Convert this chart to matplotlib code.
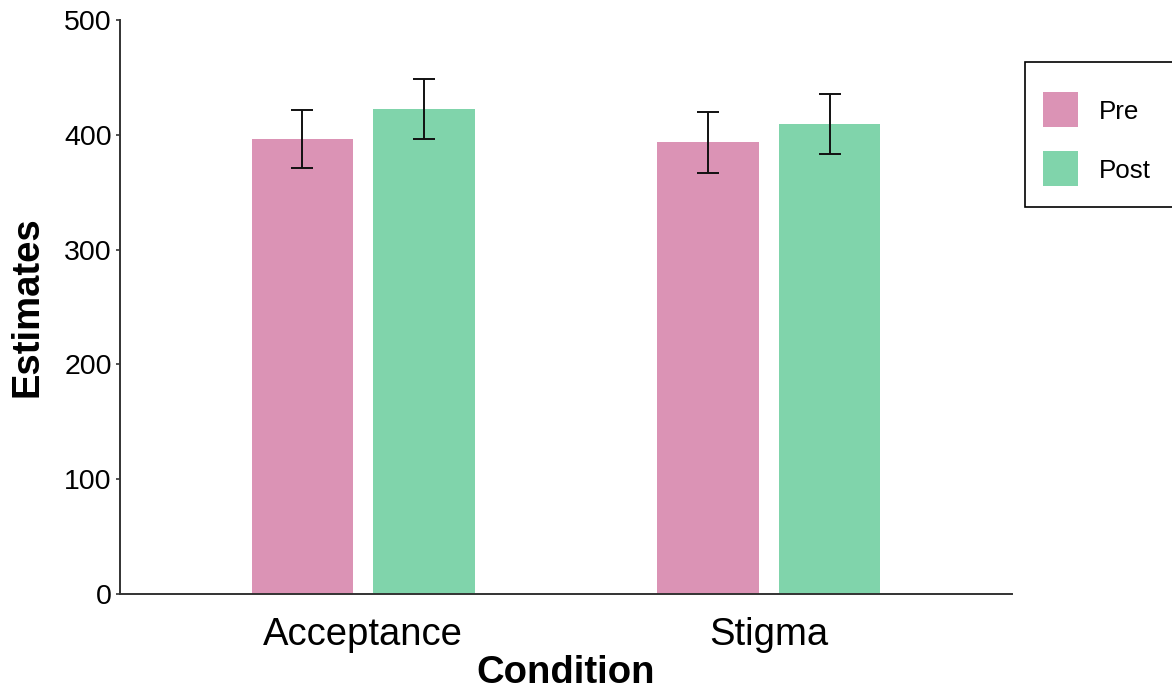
import matplotlib
matplotlib.use("Agg")
import matplotlib.pyplot as plt
from matplotlib.patches import Rectangle
import numpy as np

plt.rcParams['font.family'] = ['Liberation Sans', 'DejaVu Sans']

# Data
conditions = ["Acceptance", "Stigma"]
phases = ["Pre", "Post"]
estimates = {
    "Pre": [396.5, 393.5],
    "Post": [422.5, 409.5],
}
errors = {
    "Pre": [25.0, 26.5],
    "Post": [26.0, 26.0],
}
colors = {"Pre": "#DB93B5", "Post": "#80D4AB"}

W, H = 1172, 690
fig = plt.figure(figsize=(W / 100, H / 100), dpi=100)
ax = fig.add_axes([120 / W, 1 - 594 / H, (1012 - 120) / W, (594 - 20) / H])

x = np.arange(1, len(conditions) + 1)
bar_w = 0.25
offsets = {"Pre": -0.15, "Post": 0.15}
for ph in phases:
    pos = x + offsets[ph]
    ax.bar(pos, estimates[ph], width=bar_w, color=colors[ph], zorder=2)
    ax.errorbar(pos, estimates[ph], yerr=errors[ph], fmt="none", ecolor="#111111",
                elinewidth=1.4, capsize=7.6, capthick=1.4, zorder=3)

ax.set_xlim(0.4, 2.6)
ax.set_ylim(0, 500)
ax.set_yticks([0, 100, 200, 300, 400, 500])
ax.set_xticks(x)
ax.set_xticklabels(conditions, fontsize=27.5)
ax.tick_params(axis="y", labelsize=20.5, length=3, width=1.2, color="#333333", pad=3)
ax.tick_params(axis="x", length=0, pad=16.5)

for s in ["top", "right"]:
    ax.spines[s].set_visible(False)
for s in ["left", "bottom"]:
    ax.spines[s].set_linewidth(1.4)
    ax.spines[s].set_color("#333333")

ax.set_xlabel("Condition", fontsize=27.5, fontweight="bold", labelpad=1.5)
ax.set_ylabel("Estimates", fontsize=27.5, fontweight="bold", labelpad=13)

# Legend drawn in figure pixel coordinates
def fx(px):
    return px / W

def fy(py):
    return 1 - py / H

fig.patches.append(Rectangle((fx(1025), fy(207)), fx(1180) - fx(1025), fy(62) - fy(207),
                             transform=fig.transFigure, facecolor="white",
                             edgecolor="black", linewidth=1.2, clip_on=False))
key_tops = {"Pre": 92, "Post": 151}
for ph in phases:
    top = key_tops[ph]
    fig.patches.append(Rectangle((fx(1043), fy(top + 35)), fx(1078) - fx(1043), fy(top) - fy(top + 35),
                                 transform=fig.transFigure, facecolor=colors[ph],
                                 edgecolor="none"))
    fig.text(fx(1099), fy(top + 20), ph, fontsize=18.7, va="center", ha="left")

fig.savefig("out.png", dpi=100)
